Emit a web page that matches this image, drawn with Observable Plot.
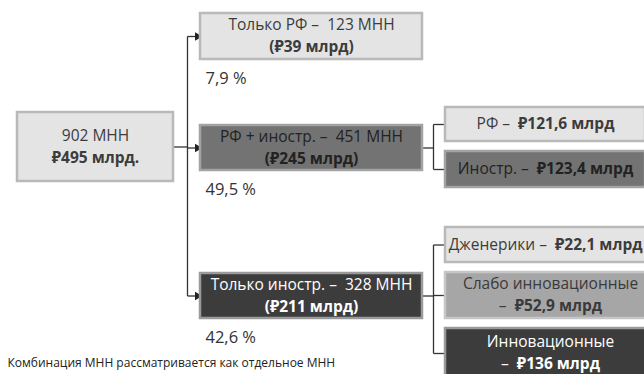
<!DOCTYPE html>
<html><head><meta charset="utf-8">
<script src="https://cdn.jsdelivr.net/npm/d3@7"></script>
<script src="https://cdn.jsdelivr.net/npm/@observablehq/plot@0.6"></script>
<style>
html,body{margin:0;padding:0;background:#fff;}
#chart{width:644px;height:374px;overflow:hidden;}
</style>
</head><body><div id="chart"></div>
<script>
// ---------- data ----------
const rootCount = "902 МНН";
const rootValue = "₽495 млрд.";
const groupNames = ["Только РФ", "РФ + иностр.", "Только иностр."];
const groupCounts = ["123 МНН", "451 МНН", "328 МНН"];
const groupValues = ["₽39 млрд", "₽245 млрд", "₽211 млрд"];
const groupShares = ["7,9 %", "49,5 %", "42,6 %"];
const mixedNames = ["РФ", "Иностр."];
const mixedValues = ["₽121,6 млрд", "₽123,4 млрд"];
const foreignNames = ["Дженерики", "Слабо инновационные", "Инновационные"];
const foreignValues = ["₽22,1 млрд", "₽52,9 млрд", "₽136 млрд"];
const footnote = "Комбинация МНН рассматривается как отдельное МНН";

// ---------- layout & style ----------
const FONT = '"Open Sans", "Noto Sans", "DejaVu Sans", sans-serif';
const FS = 15.5, FS_PCT = 16.5, FS_NOTE = 12;
const DASH = " –\u00a0\u00a0";
const W = 644, H = 374;
const layout = {
  root: {x1: 17, x2: 173, y1: 112, y2: 181},
  trunkX: 187,
  mid: {x1: 200, x2: 422, rows: [[13, 59], [125, 170], [273, 318]]},
  bracketX: 433,
  right: {x1: 445, x2: [645, 655], rows: [[[107, 141], [151, 187]], [[227, 262], [272, 318], [328, 378]]]},
  lineGap: 11,
  edgePad: 2
};
const styles = {
  light: {fill: "#e4e4e4", stroke: "#b9b9b9", text: "#3c3c3c"},
  medium: {fill: "#737373", stroke: "#a3a3a3", text: "#222222"},
  soft: {fill: "#a6a6a6", stroke: "#c6c6c6", text: "#3a3a3a"},
  dark: {fill: "#3c3c3c", stroke: "#9a9a9a", text: "#ffffff"}
};
const midStyles = ["light", "medium", "dark"];
const mixedStyles = ["light", "medium"];
const foreignStyles = ["light", "soft", "dark"];

// ---------- build ----------
const ctx = document.createElement("canvas").getContext("2d");
function tw(t, bold, size) { ctx.font = `${bold ? 700 : 400} ${size}px ${FONT}`; return ctx.measureText(t).width; }

const boxes = [], lines = [], links = [], heads = [];
function addBox(b, style, textLines) {
  const s = styles[style];
  boxes.push({...b, fill: s.fill, stroke: s.stroke});
  const cx = (b.x1 + b.x2) / 2, cy = (b.y1 + b.y2) / 2;
  const n = textLines.length;
  textLines.forEach((parts, i) => {
    const y = n === 1 ? cy : cy + (i - (n - 1) / 2) * 2 * layout.lineGap;
    lines.push({cx, y, parts, color: s.text, size: FS});
  });
}

// root
addBox(layout.root, "light", [[[rootCount, false]], [[rootValue, true]]]);
const rootCy = (layout.root.y1 + layout.root.y2) / 2;
links.push({x1: layout.root.x2, y1: rootCy, x2: layout.trunkX, y2: rootCy});

// middle column
const midCenters = [];
groupNames.forEach((name, i) => {
  const [y1, y2] = layout.mid.rows[i];
  const b = {x1: layout.mid.x1, x2: layout.mid.x2, y1, y2};
  addBox(b, midStyles[i], [[[`${name}${DASH}${groupCounts[i]}`, false]], [[`(${groupValues[i]})`, true]]]);
  const cy = (y1 + y2) / 2; midCenters.push(cy);
  links.push({x1: layout.trunkX, y1: cy, x2: layout.mid.x1 - 3, y2: cy});
  heads.push({x: layout.mid.x1 - 3, y: cy});
  lines.push({cx: null, x: layout.mid.x1 + 5, y: y2 + 19, parts: [[groupShares[i], false]], color: "#333333", size: FS_PCT});
});
links.push({x1: layout.trunkX, y1: d3.min(midCenters), x2: layout.trunkX, y2: d3.max(midCenters)});

// right groups
function addGroup(gi, names, values, st, parentIdx) {
  const rows = layout.right.rows[gi];
  const ys = [];
  names.forEach((name, i) => {
    const [y1, y2] = rows[i];
    const b = {x1: layout.right.x1, x2: layout.right.x2[gi], y1, y2};
    const tall = (y2 - y1) >= 44;
    const tl = tall ? [[[name, false]], [["–\u00a0\u00a0", false], [values[i], true]]] : [[[`${name}${DASH}`, false], [values[i], true]]];
    addBox(b, st[i], tl);
    const cy = (y1 + y2) / 2; ys.push(cy);
    links.push({x1: layout.bracketX, y1: cy, x2: layout.right.x1, y2: cy});
  });
  const py = midCenters[parentIdx];
  links.push({x1: layout.mid.x2, y1: py, x2: layout.bracketX, y2: py});
  links.push({x1: layout.bracketX, y1: d3.min(ys), x2: layout.bracketX, y2: d3.max(ys)});
}
addGroup(0, mixedNames, mixedValues, mixedStyles, 1);
addGroup(1, foreignNames, foreignValues, foreignStyles, 2);

// footnote
lines.push({cx: null, x: 7, y: 363, parts: [[footnote, false]], color: "#222222", size: FS_NOTE});

// split text lines into positioned segments (keep every line inside the picture)
const segs = [];
lines.forEach(l => {
  const widths = l.parts.map(([t, b]) => tw(t, b, l.size));
  const total = d3.sum(widths);
  let x = l.cx == null ? l.x : Math.min(l.cx - total / 2, W - layout.edgePad - total);
  l.parts.forEach(([t, b], i) => { segs.push({x, y: l.y, t, bold: b, color: l.color, size: l.size}); x += widths[i]; });
});

const textMark = (bold, size) => Plot.text(segs.filter(s => s.bold === bold && s.size === size), {
  x: "x", y: "y", text: "t", fill: "color", textAnchor: "start", fontSize: size,
  fontWeight: bold ? 700 : 400, fontFamily: FONT
});

const plot = Plot.plot({
  width: W, height: H, margin: 0,
  x: {domain: [0, W], range: [0, W], axis: null},
  y: {domain: [0, H], range: [0, H], axis: null},
  color: {type: "identity"},
  style: {background: "#fff", fontFamily: FONT},
  marks: [
    Plot.link(links, {x1: "x1", y1: "y1", x2: "x2", y2: "y2", stroke: "#333", strokeWidth: 1.3}),
    Plot.dot(heads, {x: "x", y: "y", symbol: "triangle", r: 3.2, rotate: 90, fill: "#222", stroke: "none"}),
    Plot.rect(boxes, {x1: "x1", x2: "x2", y1: "y1", y2: "y2", fill: "fill", stroke: "stroke", strokeWidth: 2.5}),
    textMark(false, FS), textMark(true, FS), textMark(false, FS_PCT), textMark(false, FS_NOTE)
  ]
});
document.getElementById("chart").appendChild(plot);
</script>
</body></html>
